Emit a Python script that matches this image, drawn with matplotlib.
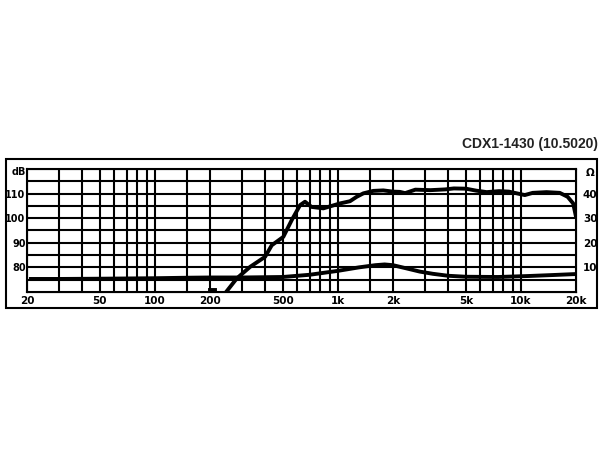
import numpy as np
import matplotlib.pyplot as plt
from matplotlib.patches import Rectangle

# Frequenzgang (dB)
spl_freq = [242, 280, 331, 400, 435, 503, 559, 621, 661, 717, 832, 1026, 1164, 1267, 1377,
            1560, 1770, 2000, 2180, 2330, 2650, 3200, 3850, 4300, 5000, 5700, 6500, 7600,
            8600, 10500, 11600, 13800, 16300, 18000, 19300, 20000]
spl_db = [69.5, 75.5, 80.2, 84.3, 89.0, 92.4, 99.2, 105.3, 106.7, 104.6, 104.0, 106.0, 106.9,
          108.7, 110.1, 111.1, 111.3, 110.8, 110.7, 110.2, 111.6, 111.4, 111.7, 112.1, 112.0,
          111.2, 110.6, 111.0, 110.8, 109.4, 110.3, 110.6, 110.3, 108.7, 106.0, 100.6]

# kleines Stück bei 200 Hz
stub_freq = [200, 213]
stub_db = [71.0, 71.0]

# Impedanz (Ohm)
imp_freq = [21, 30, 50, 100, 150, 200, 300, 500, 700, 1000, 1300, 1600, 1800, 2000, 2400,
            2800, 3300, 4000, 5000, 7500, 11000, 15000, 20000]
imp_ohm = [5.3, 5.3, 5.4, 5.6, 5.8, 5.9, 5.9, 6.1, 7.0, 8.6, 10.0, 10.9, 11.2, 10.9, 9.5,
           8.3, 7.4, 6.6, 6.2, 6.1, 6.5, 6.9, 7.3]

grid_freqs = [30, 40, 50, 60, 70, 80, 90, 100, 150, 200, 300, 400, 500, 600, 700, 800, 900,
              1000, 1500, 2000, 3000, 4000, 5000, 6000, 7000, 8000, 9000, 10000]
grid_db = [75, 80, 85, 90, 95, 100, 105, 110, 115]

x_ticks = [20, 50, 100, 200, 500, 1000, 2000, 5000, 10000, 20000]
x_labels = ['20', '50', '100', '200', '500', '1k', '2k', '5k', '10k', '20k']
db_ticks = [80, 90, 100, 110]
ohm_ticks = [10, 20, 30, 40]

fig = plt.figure(figsize=(6, 4.5), dpi=100)
fig.patches.append(Rectangle((6 / 600, 1 - 308 / 450), 591 / 600, 149 / 450,
                             transform=fig.transFigure, fill=False, lw=1.5, ec='black'))

ax = fig.add_axes([27 / 600, 1 - 292 / 450, 549 / 600, 123 / 450])
ax.set_xscale('log')
ax.set_xlim(20, 20000)
ax.set_ylim(70, 120)

for f in grid_freqs:
    ax.axvline(f, color='black', lw=1.5, zorder=1)
for d in grid_db:
    ax.axhline(d, color='black', lw=1.5, zorder=1)

ax.plot(spl_freq, spl_db, color='black', lw=2.8, solid_capstyle='round', zorder=3)
ax.plot(stub_freq, stub_db, color='black', lw=2.8, zorder=3)

lab = dict(fontsize=7.5, fontweight='bold', color='black')
ylab = dict(fontsize=7, fontweight='bold', color='black')
ax.set_xticks(x_ticks)
ax.set_xticklabels(x_labels, **lab)
ax.xaxis.set_minor_locator(plt.NullLocator())
ax.set_yticks(db_ticks)
ax.set_yticklabels([str(v) for v in db_ticks], **ylab)
ax.tick_params(length=0, pad=3)
ax.tick_params(axis='y', pad=1)
for s in ax.spines.values():
    s.set_linewidth(1.5)
ax.text(-0.002, 118.6, 'dB', transform=ax.get_yaxis_transform(), ha='right', va='center', **ylab)

ax2 = ax.twinx()
ax2.set_ylim(0, 50)
ax2.plot(imp_freq, imp_ohm, color='black', lw=2.8, zorder=3)
ax2.set_yticks(ohm_ticks)
ax2.set_yticklabels([str(v) for v in ohm_ticks], **lab)
ax2.tick_params(length=0, pad=5)
ax2.text(1.018, 48.3, 'Ω', transform=ax2.get_yaxis_transform(), ha='left', va='center', **lab)

fig.text(598 / 600, 1 - 144 / 450, 'CDX1-1430 (10.5020)', ha='right', va='center',
         fontsize=10, family='Liberation Sans', fontweight='bold', color='#222222')

fig.savefig('out.png', dpi=100)
